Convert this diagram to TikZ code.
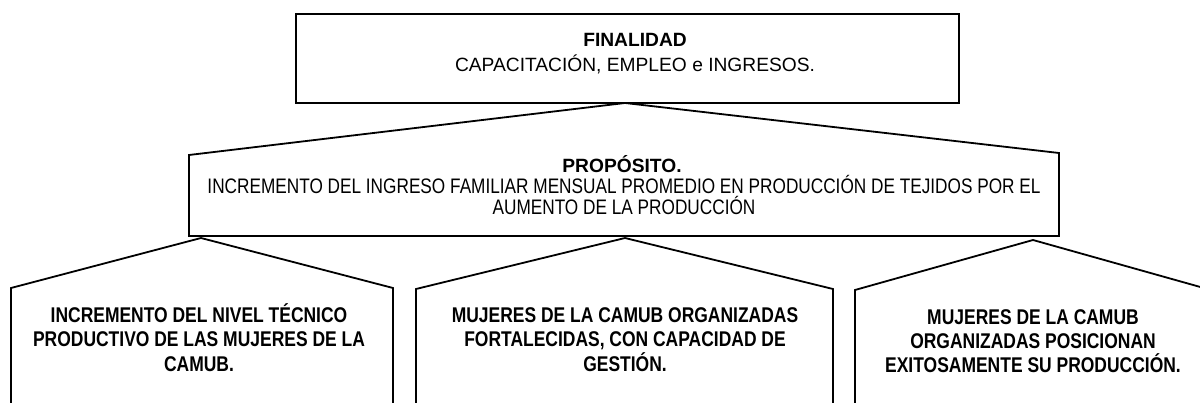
\documentclass[tikz,border=0pt]{standalone}
\usepackage{fontspec}
\setmainfont{Liberation Sans}
\newfontfamily\narrowfont{Liberation Sans}[FakeStretch=0.82]
\begin{document}
\begin{tikzpicture}[x=1pt,y=-1pt,
  shapeline/.style={draw=black, line width=1.8pt, line join=miter},
  txt/.style={inner sep=0pt, anchor=base},
  topfont/.style={font=\fontsize{19.2}{23}\selectfont},
  midfont/.style={font=\narrowfont\fontsize{21}{24}\selectfont},
  lowfont/.style={font=\narrowfont\bfseries\fontsize{21.3}{24}\selectfont}]
\useasboundingbox (0,0) rectangle (1200,403);
\clip (0,0) rectangle (1200,403);
% FINALIDAD box
\draw[shapeline] (296,14) rectangle (959,103);
\node[txt, topfont] (fin) at (635,47) {\bfseries FINALIDAD};
\node[txt, topfont] (fintext) at (635,72) {CAPACITACIÓN, EMPLEO e INGRESOS.};
% PROPOSITO shape
\draw[shapeline] (189,236) -- (189,155) -- (625,103) -- (1059,153) -- (1059,236) -- cycle;
\node[txt, topfont] (prop) at (622,173) {\bfseries PROPÓSITO.};
\node[txt, midfont] (propa) at (624,194) {INCREMENTO DEL INGRESO FAMILIAR MENSUAL PROMEDIO EN PRODUCCIÓN DE TEJIDOS POR EL};
\node[txt, midfont] (propb) at (624,215) {AUMENTO DE LA PRODUCCIÓN};
% Component 1
\draw[shapeline] (11,420) -- (11,288) -- (201,238) -- (393,288) -- (393,420);
\node[txt, lowfont] (ca) at (199,323) {INCREMENTO DEL NIVEL TÉCNICO};
\node[txt, lowfont] (cb) at (199,347) {PRODUCTIVO DE LAS MUJERES DE LA};
\node[txt, lowfont] (cc) at (199,371) {CAMUB.};
% Component 2
\draw[shapeline] (416,420) -- (416,289) -- (625,238) -- (833,289) -- (833,420);
\node[txt, lowfont] (da) at (625,323) {MUJERES DE LA CAMUB ORGANIZADAS};
\node[txt, lowfont] (db) at (625,347) {FORTALECIDAS, CON CAPACIDAD DE};
\node[txt, lowfont] (dc) at (625,371) {GESTIÓN.};
% Component 3
\draw[shapeline] (855,420) -- (855,290) -- (1033,240) -- (1211,290) -- (1211,420);
\node[txt, lowfont] (ea) at (1033,325) {MUJERES DE LA CAMUB};
\node[txt, lowfont] (eb) at (1033,349) {ORGANIZADAS POSICIONAN};
\node[txt, lowfont] (ec) at (1033,373) {EXITOSAMENTE SU PRODUCCIÓN.};
\end{tikzpicture}
\end{document}
